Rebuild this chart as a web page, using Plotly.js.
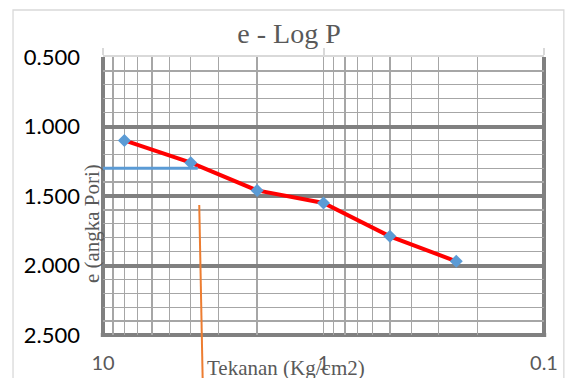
<!DOCTYPE html>
<html><head><meta charset="utf-8">
<script src="https://cdn.plot.ly/plotly-3.0.1.min.js"></script>
<style>html,body{margin:0;padding:0;background:#fff}#chart{width:575px;height:378px}</style>
</head><body><div id="chart"></div>
<script>
// Data
const pressure = [8, 4, 2, 1, 0.5, 0.25];           // Tekanan (Kg/cm2)
const voidRatio = [1.10, 1.26, 1.46, 1.55, 1.79, 1.97]; // e (angka Pori)
const guideX = [10, 3.72];   // blue horizontal construction line
const guideY = [1.30, 1.30];
const orangeX = [3.66, 3.53]; // orange construction line (x in data units)
const orangeYPaper = [0.468, -0.17];
const xGridVals = [10, 9, 8, 7, 6, 5, 4, 3, 2, 1, 0.9, 0.8, 0.7, 0.6, 0.5, 0.4, 0.3, 0.2, 0.1];
const xLabelVals = [10, 1, 0.1];
const xLabelText = ['10', '1', '0.1'];
const xGridText = xGridVals.map(v => { const i = xLabelVals.indexOf(v); return i >= 0 ? xLabelText[i] : ''; });

const traces = [
  { x: pressure, y: voidRatio, type: 'scatter', mode: 'lines',
    line: { color: '#ff0000', width: 4 }, hoverinfo: 'skip', showlegend: false },
  { x: pressure, y: voidRatio, type: 'scatter', mode: 'markers',
    marker: { symbol: 'diamond', size: 10, color: '#5b9bd5' }, showlegend: false },
  { x: guideX, y: guideY, type: 'scatter', mode: 'lines', xaxis: 'x2',
    line: { color: '#5b9bd5', width: 3 }, showlegend: false }
];

const layout = {
  width: 575, height: 378,
  margin: { l: 103, r: 31, t: 57, b: 43 },
  paper_bgcolor: '#ffffff', plot_bgcolor: '#ffffff',
  showlegend: false,
  title: { text: 'e - Log P', font: { family: 'Liberation Serif', size: 28, color: '#595959' },
           x: 289 / 575, xref: 'container', xanchor: 'center', y: 0.913, yref: 'container', yanchor: 'middle' },
  xaxis: { type: 'log', autorange: false, range: [1, -1],
           tickmode: 'array', tickvals: xGridVals, ticktext: xGridText,
           showgrid: true, gridcolor: '#a6a6a6', gridwidth: 1.3,
           ticks: '', showline: false, zeroline: false,
           tickfont: { family: 'Lato', size: 20, color: '#595959' }, ticklabelstandoff: 14 },
  xaxis2: { type: 'log', autorange: false, range: [1, -1], overlaying: 'x', side: 'top', anchor: 'y',
            tickmode: 'array', tickvals: xLabelVals, showticklabels: false,
            ticks: 'outside', ticklen: 7, tickwidth: 2, tickcolor: '#d9d9d9',
            showline: true, linecolor: '#d9d9d9', linewidth: 2, showgrid: false, zeroline: false },
  yaxis: { autorange: false, range: [2.5, 0.5], tick0: 0.5, dtick: 0.5, tickformat: '.3f',
           showgrid: true, gridcolor: '#808080', gridwidth: 4,
           minor: { tick0: 0.5, dtick: 0.1, showgrid: true, gridcolor: '#a6a6a6', gridwidth: 1.3 },
           zeroline: false, showline: false, ticks: '',
           tickfont: { family: 'Lato', size: 22, color: '#000000' }, ticklabelstandoff: 22 },
  shapes: [
    { type: 'rect', xref: 'paper', yref: 'paper', x0: -0.204, x1: 1.045, y0: -0.17, y1: 1.169,
      line: { color: '#d9d9d9', width: 1.3 }, fillcolor: 'rgba(0,0,0,0)', layer: 'below' },
    { type: 'line', xref: 'paper', yref: 'paper', x0: 0, x1: 0, y0: -0.007, y1: 1, line: { color: '#808080', width: 4 }, layer: 'between' },
    { type: 'line', xref: 'paper', yref: 'paper', x0: 1, x1: 1, y0: -0.007, y1: 1, line: { color: '#808080', width: 4 }, layer: 'between' },
    { type: 'line', xref: 'paper', yref: 'paper', x0: -0.005, x1: 1.005, y0: 0, y1: 0, line: { color: '#808080', width: 4 }, layer: 'between' },
    { type: 'line', xref: 'x', yref: 'paper', x0: orangeX[0], x1: orangeX[1], y0: orangeYPaper[0], y1: orangeYPaper[1],
      line: { color: '#ed7d31', width: 2 }, layer: 'above' }
  ],
  annotations: [
    { text: 'Tekanan (Kg/cm2)', xref: 'paper', yref: 'paper', x: 0.416, y: -0.119,
      xanchor: 'center', yanchor: 'middle', showarrow: false,
      font: { family: 'Liberation Serif', size: 21, color: '#595959' } },
    { text: 'e (angka Pori)', xref: 'paper', yref: 'paper', x: -0.0249, y: 0.399, textangle: -90,
      xanchor: 'center', yanchor: 'middle', showarrow: false,
      font: { family: 'Liberation Serif', size: 21, color: '#595959' } }
  ]
};

Plotly.newPlot('chart', traces, layout, { displayModeBar: false, staticPlot: true });
</script>
</body></html>
